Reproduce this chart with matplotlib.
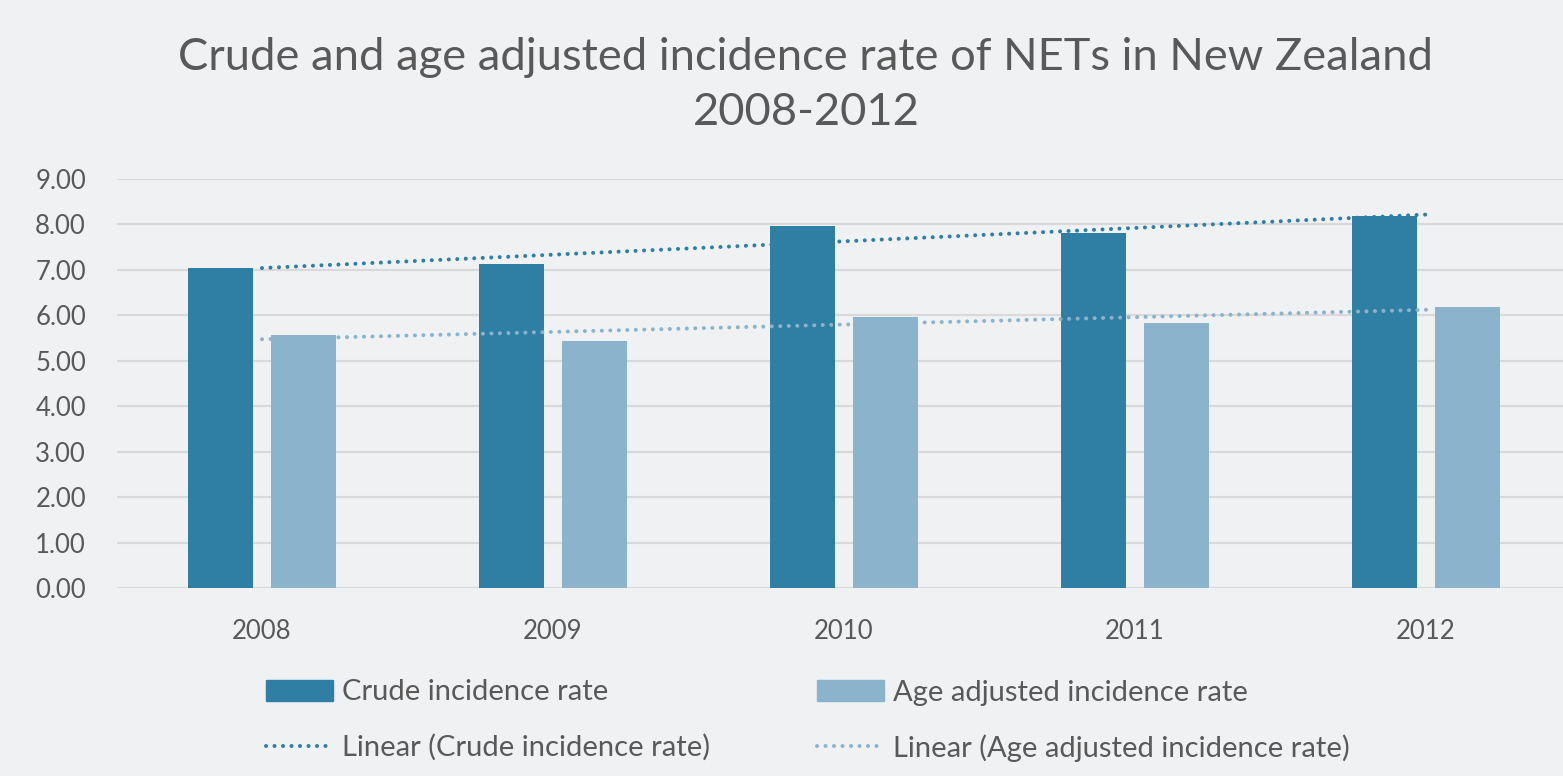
import numpy as np
import matplotlib
matplotlib.use("Agg")
import matplotlib.pyplot as plt
from matplotlib.lines import Line2D
from matplotlib.patches import Patch

years = ["2008", "2009", "2010", "2011", "2012"]
crude = [7.05, 7.14, 7.96, 7.82, 8.18]
age_adj = [5.57, 5.44, 5.97, 5.84, 6.18]
yticks = [0, 1, 2, 3, 4, 5, 6, 7, 8, 9]

title = "Crude and age adjusted incidence rate of NETs in New Zealand\n2008-2012"
bg = "#F0F1F3"
c_crude = "#2E7FA3"
c_age = "#8CB3CC"
txt = "#595959"

plt.rcParams['font.family'] = ['Lato', 'DejaVu Sans']

W, H = 1563, 776
fig = plt.figure(figsize=(W/100, H/100), dpi=100, facecolor=bg)
left, right = 116.5, 1571.5
ax = fig.add_axes([left/W, 1-588.3/H, (right-left)/W, (588.3-179)/H])
ax.set_facecolor(bg)

x = np.arange(len(years))
w = 0.225
off = 0.1435
ax.bar(x - off, crude, w, color=c_crude, zorder=2)
ax.bar(x + off, age_adj, w, color=c_age, zorder=2)

# Linear trendlines (least-squares fit of each series)
pc = np.polyfit(x, crude, 1)
pa = np.polyfit(x, age_adj, 1)
ls = (0, (0.01, 2.1))
ax.plot(x, np.polyval(pc, x), color=c_crude, lw=2.9, linestyle=ls, dash_capstyle='round', zorder=3, clip_on=False)
ax.plot(x, np.polyval(pa, x), color=c_age, lw=2.9, linestyle=ls, dash_capstyle='round', zorder=3, clip_on=False)

ax.set_xlim(-0.5, len(years) - 0.5)
ax.set_ylim(0, 9)
ax.set_yticks(yticks)
ax.set_yticklabels([f"{v:.2f}" for v in yticks])
ax.set_xticks(x)
ax.set_xticklabels(years)
ax.yaxis.grid(True, color="#D9D9D9", lw=1.5, zorder=0)
ax.set_axisbelow(True)
for s in ax.spines.values():
    s.set_visible(False)
ax.tick_params(axis='both', length=0, colors=txt, labelsize=18.5)
ax.tick_params(axis='y', pad=22)
ax.tick_params(axis='x', pad=22)

fig.text(806/W, 1-85/H, title, ha='center', va='center', fontsize=32.6, color=txt, linespacing=1.42)

dot = dict(lw=2.9, linestyle=(0, (0.01, 2.1)), dash_capstyle='round')
common = dict(loc='upper left', frameon=False, fontsize=21, labelcolor=txt,
              handlelength=2.3, handletextpad=0.3, labelspacing=0.98,
              borderpad=0, borderaxespad=0)
leg1 = fig.legend([Patch(color=c_crude), Line2D([0], [0], color=c_crude, **dot)],
                  ["Crude incidence rate", "Linear (Crude incidence rate)"],
                  bbox_to_anchor=(266/W, 1-679.5/H), **common)
leg2 = fig.legend([Patch(color=c_age), Line2D([0], [0], color=c_age, **dot)],
                  ["Age adjusted incidence rate", "Linear (Age adjusted incidence rate)"],
                  bbox_to_anchor=(817/W, 1-679.5/H), **common)

fig.savefig("out.png", dpi=100, facecolor=bg)
